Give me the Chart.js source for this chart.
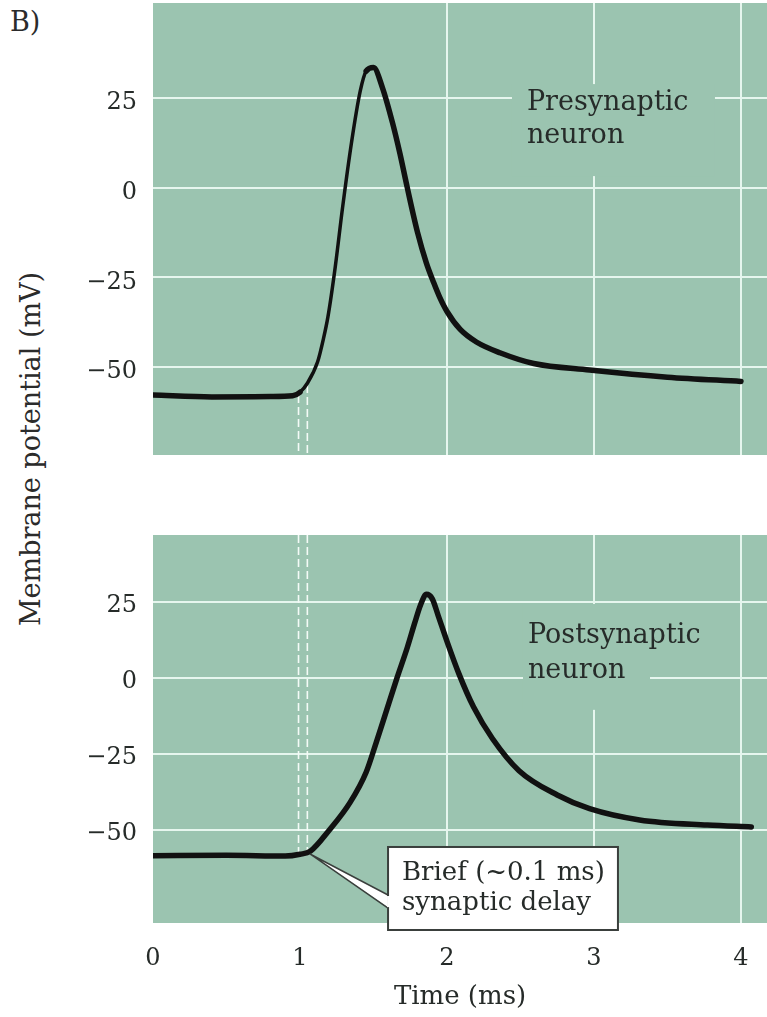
<!DOCTYPE html>
<html>
<head>
<meta charset="utf-8">
<script src="https://cdn.jsdelivr.net/npm/chart.js"></script>
<style>
  body {
    margin: 0;
    width: 767px;
    height: 1017px;
    overflow: hidden;
    position: relative;
    background: #fff;
    font-family: 'DejaVu Serif', serif;
    color: #2b2b2b;
  }
  #preChart { position: absolute; left: 0; top: 0; }
  #postChart { position: absolute; left: 0; top: 520px; }
  .panel-tag { position: absolute; left: 10px; top: 6px; font-size: 27px; }
  .y-title {
    position: absolute;
    left: 30px;
    top: 449px;
    transform: translate(-50%, -50%) rotate(-90deg);
    font-size: 27px;
    white-space: nowrap;
  }
</style>
</head>
<body>
<div class="panel-tag">B)</div>
<div class="y-title">Membrane potential (mV)</div>
<canvas id="preChart" width="767" height="460"></canvas>
<canvas id="postChart" width="767" height="497"></canvas>

<script>
// --- datos ---
const xTicks = [0, 1, 2, 3, 4];
const yTicks = [-50, -25, 0, 25];

// Neurona presináptica (potencial de acción)
const preTime = [0, 0.4, 0.8, 0.95, 1.0, 1.05, 1.12, 1.16, 1.19, 1.24, 1.29, 1.35, 1.41, 1.45, 1.50,
                 1.56, 1.63, 1.68, 1.73, 1.80, 1.86, 1.91, 1.95, 2.0, 2.09, 2.2, 2.36, 2.59, 2.97, 3.5, 4.0];
const preMv = [-57.8, -58.3, -58.2, -58, -57, -54.5, -48.5, -42, -36, -22, -5.4, 12.5, 27, 32.5, 33.5,
               28, 18, 9.5, 0, -12.5, -21, -26.5, -30.5, -34.5, -39.5, -43, -46, -49, -50.8, -52.8, -54];

// Neurona postsináptica
const postTime = [0, 0.5, 0.9, 1.0, 1.07, 1.2, 1.34, 1.45, 1.52, 1.59, 1.66, 1.73, 1.78, 1.82, 1.86,
                  1.90, 1.94, 2.0, 2.08, 2.18, 2.31, 2.49, 2.75, 2.97, 3.31, 3.77, 4.07];
const postMv = [-58.5, -58.3, -58.6, -58, -57, -50, -41, -31, -21, -10.5, 0, 10, 18, 24, 27.5,
                26, 20.5, 12, 1.5, -9.5, -20, -30.5, -38.5, -43, -46.7, -48.4, -49];

// líneas discontinuas que marcan el retardo sináptico
const delayTimes = [0.99, 1.05];
const preDashFrom = [-57.8, -55];
const postDashTo = [-57.8, -57];

const green = '#9bc4b0';
const gridColor = '#e6f6ee';
const inkColor = '#262b29';

const toPoints = (xs, ys) => xs.map((x, i) => ({ x: x, y: ys[i] }));

// Plugin: fondo verde, etiquetas de texto y recuadro de la llamada
const panelDecor = {
    id: 'panelDecor',
    beforeDraw(chart) {
        const { ctx, chartArea: a } = chart;
        ctx.save();
        ctx.fillStyle = green;
        ctx.fillRect(a.left, a.top, a.right - a.left, a.bottom - a.top);
        ctx.restore();
    },
    beforeDatasetsDraw(chart, args, opts) {
        const { ctx, scales: { x, y } } = chart;
        ctx.save();
        if (opts.mask) {
            const m = opts.mask;
            const x0 = x.getPixelForValue(m[0]), x1 = x.getPixelForValue(m[1]);
            const y0 = y.getPixelForValue(m[2]), y1 = y.getPixelForValue(m[3]);
            ctx.fillStyle = green;
            ctx.fillRect(x0, y0, x1 - x0, y1 - y0);
        }
        if (opts.label) {
            ctx.font = '27px "DejaVu Serif"';
            ctx.fillStyle = inkColor;
            ctx.textBaseline = 'alphabetic';
            const lx = x.getPixelForValue(opts.label.at[0]);
            const ly = y.getPixelForValue(opts.label.at[1]);
            opts.label.lines.forEach((t, i) => ctx.fillText(t, lx, ly + i * opts.label.gap));
        }
        ctx.restore();
    },
    afterDatasetsDraw(chart, args, opts) {
        if (!opts.callout) return;
        const { ctx, scales: { x, y } } = chart;
        const c = opts.callout;
        const bx0 = x.getPixelForValue(c.box[0]), bx1 = x.getPixelForValue(c.box[1]);
        const by0 = y.getPixelForValue(c.box[2]), by1 = y.getPixelForValue(c.box[3]);
        const tx = x.getPixelForValue(c.tip[0]), ty = y.getPixelForValue(c.tip[1]);
        const w0 = y.getPixelForValue(c.wedge[0]), w1 = y.getPixelForValue(c.wedge[1]);
        ctx.save();
        // cuña blanca
        ctx.beginPath();
        ctx.moveTo(tx, ty);
        ctx.lineTo(bx0 + 1, w0);
        ctx.lineTo(bx0 + 1, w1);
        ctx.closePath();
        ctx.fillStyle = '#fff';
        ctx.fill();
        ctx.strokeStyle = '#3a3f3c';
        ctx.lineWidth = 1.5;
        ctx.beginPath();
        ctx.moveTo(bx0, w0);
        ctx.lineTo(tx, ty);
        ctx.lineTo(bx0, w1);
        ctx.stroke();
        // recuadro
        ctx.fillStyle = '#fff';
        ctx.fillRect(bx0, by0, bx1 - bx0, by1 - by0);
        ctx.lineWidth = 2;
        ctx.strokeRect(bx0, by0, bx1 - bx0, by1 - by0);
        // cubrir el borde donde entra la cuña
        ctx.fillRect(bx0 - 1, w0 + 1, 3, w1 - w0 - 2);
        ctx.font = '26px "DejaVu Serif"';
        ctx.fillStyle = inkColor;
        ctx.textBaseline = 'alphabetic';
        const lx = x.getPixelForValue(c.textAt[0]);
        c.lines.forEach((t, i) => ctx.fillText(t, lx, y.getPixelForValue(c.baselines[i])));
        ctx.restore();
    }
};

Chart.register(panelDecor);

const tickFont = { family: 'DejaVu Serif', size: 24 };
const fmtTick = (v) => (v < 0 ? '\u2212' + Math.abs(v) : String(v));
const hideEdge = (ctx) => (ctx.tick && (ctx.tick.value === 0 || ctx.tick.value === 1)) ? 'rgba(0,0,0,0)' : gridColor;
// quitar el relleno automático que Chart.js añade para las etiquetas
const noPad = (s) => { s.paddingTop = 0; s.paddingBottom = 0; s.paddingLeft = 0; s.paddingRight = 0; };

function curveDataset(xs, ys, thinRise) {
    return {
        data: toPoints(xs, ys),
        borderColor: '#111',
        borderWidth: 5.5,
        pointRadius: 0,
        cubicInterpolationMode: 'monotone',
        borderCapStyle: 'round',
        borderJoinStyle: 'round',
        segment: thinRise ? {
            borderWidth: (ctx) => (ctx.p1.parsed.y > ctx.p0.parsed.y + 2 ? 3.5 : 5.5)
        } : undefined
    };
}

function dashDataset(t, yA, yB) {
    return {
        data: [{ x: t, y: yA }, { x: t, y: yB }],
        borderColor: '#f4fbf7',
        borderWidth: 1.6,
        borderDash: [8, 4],
        pointRadius: 0
    };
}

function baseOptions(yMin, yMax, xMax, xHeight, labelShift) {
    return {
        responsive: false,
        animation: false,
        events: [],
        plugins: { legend: { display: false }, tooltip: { enabled: false } },
        scales: {
            x: {
                type: 'linear',
                min: 0,
                max: xMax,
                afterBuildTicks: (s) => { s.ticks = xTicks.map(v => ({ value: v })); },
                afterFit: (s) => { s.height = xHeight; noPad(s); },
                grid: { color: hideEdge, lineWidth: 2, drawTicks: false },
                border: { display: false },
                ticks: { display: false }
            },
            y: {
                min: yMin,
                max: yMax,
                afterBuildTicks: (s) => { s.ticks = yTicks.map(v => ({ value: v })); },
                afterFit: (s) => { s.width = 153; noPad(s); },
                grid: { color: gridColor, lineWidth: 2, drawTicks: false },
                border: { display: false },
                ticks: { font: tickFont, color: inkColor, padding: 16, labelOffset: labelShift, callback: fmtTick }
            }
        }
    };
}

// --- Panel superior: neurona presináptica ---
const preOptions = baseOptions(-74.5, 51.5, 4.177, 5, 5);
preOptions.layout = { padding: { top: 3, left: 0, right: 0, bottom: 0 } };
preOptions.plugins.panelDecor = {
    mask: [2.442, 3.823, 28.9, 3.25],
    label: { lines: ['Presynaptic', 'neuron'], at: [2.544, 21.65], gap: 33 }
};

new Chart(document.getElementById('preChart'), {
    type: 'line',
    data: {
        datasets: [
            curveDataset(preTime, preMv, true),
            dashDataset(delayTimes[0], preDashFrom[0], -74.5),
            dashDataset(delayTimes[1], preDashFrom[1], -74.5)
        ]
    },
    options: preOptions
});

// --- Panel inferior: neurona postsináptica ---
const postOptions = baseOptions(-80.6, 47, 4.177, 94, 4);
postOptions.layout = { padding: { top: 15, left: 0, right: 0, bottom: 0 } };
postOptions.scales.x.ticks = { display: true, font: tickFont, color: inkColor, padding: 21 };
postOptions.scales.x.title = {
    display: true,
    text: 'Time (ms)',
    font: { family: 'DejaVu Serif', size: 26 },
    color: inkColor,
    padding: { top: 0, bottom: 4 }
};
postOptions.plugins.panelDecor = {
    mask: [2.517, 3.381, 24.3, -10.5],
    label: { lines: ['Postsynaptic', 'neuron'], at: [2.551, 11.5], gap: 35 },
    callout: {
        box: [1.599, 3.163, -55.6, -82.9],
        tip: [1.068, -57.9],
        wedge: [-71.4, -75.7],
        textAt: [1.694],
        lines: ['Brief (~0.1 ms)', 'synaptic delay'],
        baselines: [-66.4, -76.3]
    }
};

new Chart(document.getElementById('postChart'), {
    type: 'line',
    data: {
        datasets: [
            curveDataset(postTime, postMv, false),
            dashDataset(delayTimes[0], 47, postDashTo[0]),
            dashDataset(delayTimes[1], 47, postDashTo[1])
        ]
    },
    options: postOptions
});
</script>
</body>
</html>
